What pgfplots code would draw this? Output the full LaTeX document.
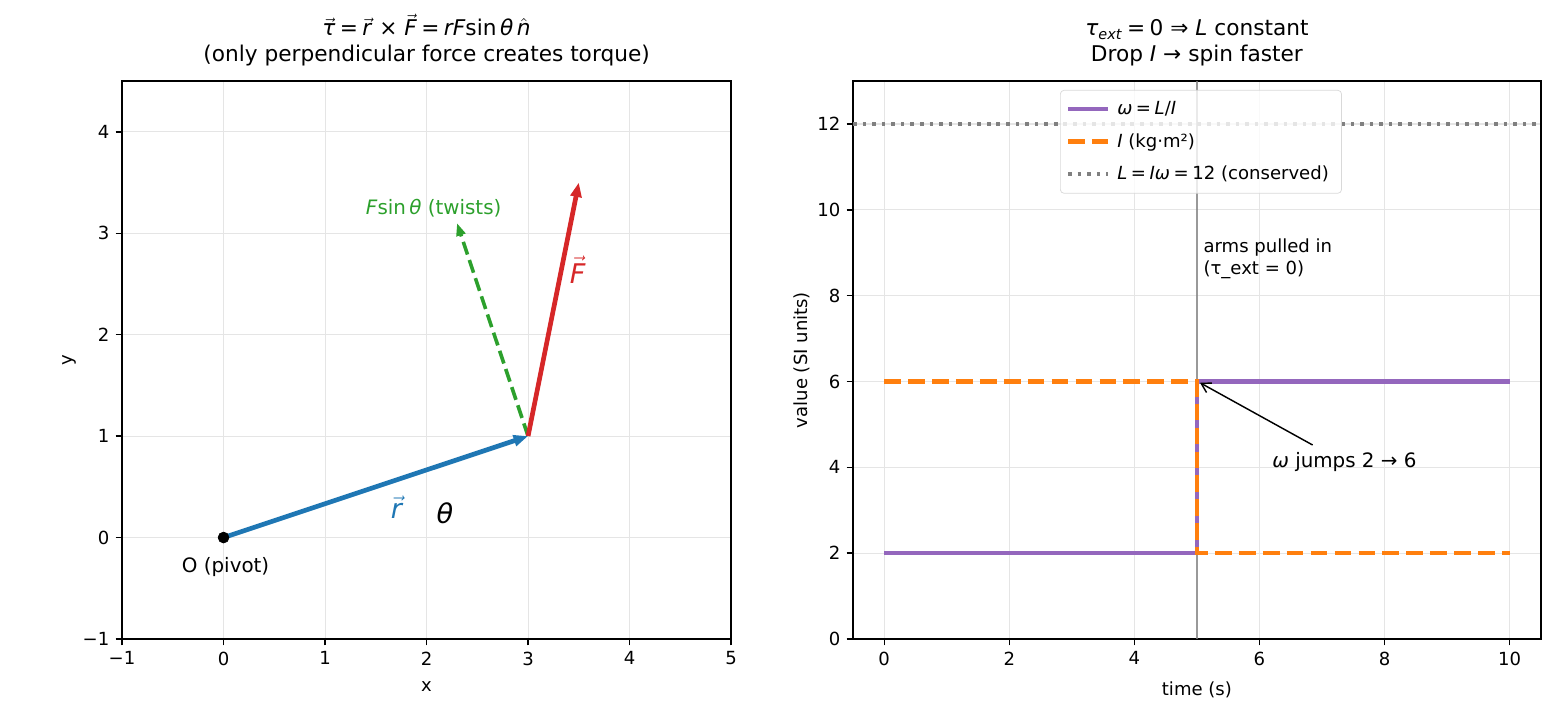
\documentclass[border=0pt]{standalone}
\usepackage{fontspec}
\setmainfont{DejaVu Sans}
\usepackage{pgfplots}
\pgfplotsset{compat=1.18}
\usetikzlibrary{arrows.meta}

\definecolor{tabblue}{HTML}{1F77B4}
\definecolor{taborange}{HTML}{FF7F0E}
\definecolor{tabgreen}{HTML}{2CA02C}
\definecolor{tabred}{HTML}{D62728}
\definecolor{tabpurple}{HTML}{9467BD}
\definecolor{midgray}{HTML}{808080}

\newcommand\fs[1]{\fontsize{#1}{\numexpr #1*6/5\relax}\selectfont}
\newcommand\vv[1]{\ensuremath{\vec{\hbox{\textit{#1}}}}}
% relation sign with the tighter spacing of math typesetting
\newcommand\eq{\hspace{0.2em}=\hspace{0.2em}}

\pgfplotsset{
  panel/.style={
    scale only axis,
    anchor=south west,
    height=309pt,
    axis line style={line width=0.8pt},
    tick pos=left,
    tick align=outside,
    major tick length=3.5pt,
    every tick/.style={black, line width=0.8pt},
    grid=major,
    major grid style={line width=0.6pt, black!10},
    tick label style={font=\fs{10}},
    label style={font=\fs{10}},
    ylabel style={yshift=-3pt},
    xlabel style={yshift=-2pt},
    title style={font=\fs{12}, align=center, yshift=-1pt},
    /pgf/number format/assume math mode=true,
    clip=false,
  },
}

\begin{document}
\begin{tikzpicture}
\path[use as bounding box] (0,0) rectangle (864pt,396pt);

% Torque: lever arm, applied force and its twisting component
\begin{axis}[panel,
  at={(67.6pt,42.1pt)}, width=337.3pt,
  xmin=-1, xmax=5, ymin=-1, ymax=4.5,
  xtick={-1,0,1,2,3,4,5},
  xticklabels={−1,0,1,2,3,4,5},
  ytick={-1,0,1,2,3,4},
  yticklabels={−1,0,1,2,3,4},
  xlabel={x}, ylabel={y},
  title={\vv{τ}\eq\vv{r} × \vv{F}\eq\textit{rF}sin\,\textit{θ}\,$\hat{\hbox{\textit{n}}}$\\(only perpendicular force creates torque)},
]
\addplot[tabgreen, line width=2pt, dash pattern=on 7.4pt off 3.2pt,
  -{Stealth[length=7pt,width=5pt,inset=0pt]}] coordinates {(3,1) (2.3,3.1)};
\addplot[tabblue, line width=2.6pt, -{Stealth[length=8pt,width=6pt,inset=0pt]}]
  coordinates {(0,0) (3,1)};
\addplot[tabred, line width=2.6pt, -{Stealth[length=8pt,width=6pt,inset=0pt]}]
  coordinates {(3,1) (3.5,3.5)};
\addplot[only marks, mark=*, mark size=3pt, black] coordinates {(0,0)};

\node[font=\fs{11}] at (axis cs:0.02,-0.29) {O (pivot)};
\node[font=\fs{15}, text=tabblue] at (axis cs:1.71,0.30) {\vv{r}};
\node[font=\fs{15}] at (axis cs:2.18,0.24) {\textit{θ}};
\node[font=\fs{15}, text=tabred] at (axis cs:3.49,2.64) {\vv{F}};
\node[font=\fs{11}, text=tabgreen] at (axis cs:2.07,3.25) {\textit{F}sin\,\textit{θ} (twists)};
\end{axis}

% Conservation of angular momentum: I drops, omega rises
\begin{axis}[panel,
  at={(472.4pt,42.1pt)}, width=381pt,
  xmin=-0.5, xmax=10.5, ymin=0, ymax=13,
  xtick={0,2,4,6,8,10},
  ytick={0,2,4,6,8,10,12},
  xlabel={time (s)}, ylabel={value (SI units)},
  title={\textit{τ}\textsubscript{\textit{ext}}\eq 0 ⇒ \textit{L} constant\\Drop \textit{I} → spin faster},
  legend cell align=left,
  legend style={at={(0.301,0.984)}, anchor=north west, font=\fs{10},
    draw=black!15, rounded corners=2pt, fill=white, fill opacity=0.8,
    text opacity=1, inner xsep=3pt, inner ysep=4pt, row sep=5pt,
    nodes={inner xsep=4pt}},
  legend image code/.code={\draw[#1] (0pt,0pt) -- (22pt,0pt);},
]
\addplot[midgray, line width=1pt, opacity=0.8, forget plot] coordinates {(5,0) (5,13)};
\addplot[tabpurple, line width=2.5pt] coordinates {(0,2) (5,2) (5,6) (10,6)};
\addlegendentry{\textit{ω}\eq\textit{L}/\textit{I}}
\addplot[taborange, line width=2.5pt, dash pattern=on 9.25pt off 4pt]
  coordinates {(0,6) (5,6) (5,2) (10,2)};
\addlegendentry{\textit{I} (kg·m²)}
\addplot[midgray, line width=2pt, dash pattern=on 2pt off 3.3pt]
  coordinates {(-0.5,12) (10.5,12)};
\addlegendentry{\textit{L}\eq\textit{Iω}\eq 12 (conserved)}

\node[font=\fs{10}, anchor=north west, align=left, inner sep=0pt]
  at (axis cs:5.1,9.33) {arms pulled in\\(τ\_ext = 0)};
\node[font=\fs{11}, anchor=base west, inner sep=0pt]
  at (axis cs:6.2,4) {\textit{ω} jumps 2 → 6};
\draw[-{Straight Barb[length=5pt,width=6pt]}, line width=0.8pt]
  (axis cs:6.85,4.52) -- (axis cs:5.05,5.97);
\end{axis}
\end{tikzpicture}
\end{document}
